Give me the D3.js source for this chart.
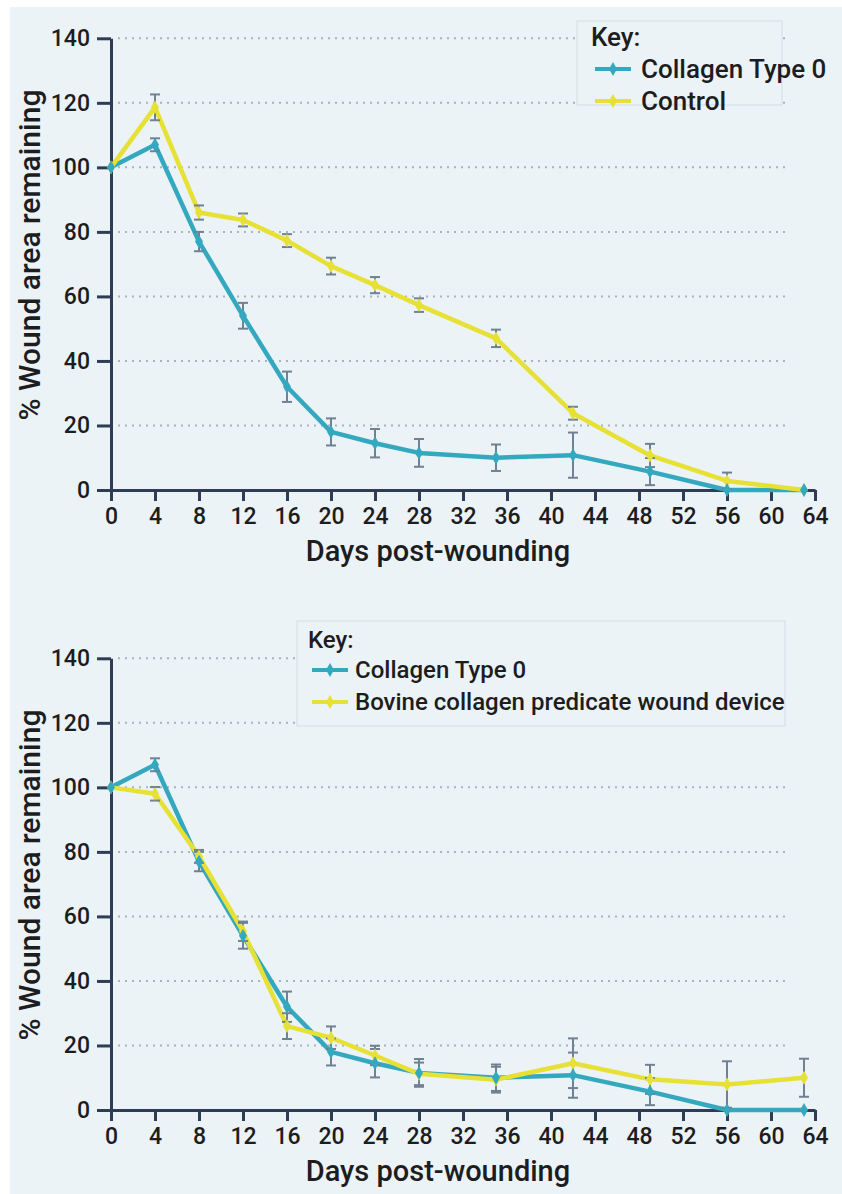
<!DOCTYPE html>
<html>
<head>
<meta charset="utf-8">
<script src="https://cdn.jsdelivr.net/npm/d3@7"></script>
<style>
  html, body { margin: 0; padding: 0; background: #ffffff; }
  svg { display: block; }
  text { font-family: Roboto, "Open Sans", sans-serif; fill: #1d1d1f; }
</style>
</head>
<body>
<svg id="chart" width="842" height="1194"></svg>
<script>
// Sampling days (post-wounding)
const days = [0, 4, 8, 12, 16, 20, 24, 28, 35, 42, 49, 56, 63];

// % wound area remaining, mean and error (±)
const collagenType0    = [100, 107, 77, 54, 32, 18, 14.5, 11.5, 10, 10.8, 5.7, 0, 0];
const collagenType0Err = [0, 2, 3, 4, 4.7, 4.2, 4.4, 4.3, 4.1, 7, 4.2, 0, 0];

const control    = [100, 118.6, 86, 83.7, 77.3, 69.4, 63.5, 57.3, 47, 23.8, 10.7, 2.8, 0];
const controlErr = [0, 4, 2.2, 2, 2, 2.6, 2.5, 2.1, 2.7, 2, 3.6, 2.6, 0];

const bovine    = [100, 98, 78.6, 55.4, 26, 22.4, 16.9, 11.2, 9.4, 14.5, 9.5, 7.9, 10];
const bovineErr = [0, 2.1, 2, 3, 4, 3.5, 3, 3.5, 4, 7.7, 4.5, 7.2, 5.9];

// Axis ticks
const xTicks = d3.range(0, 65, 4);
const yTicks = d3.range(0, 141, 20);
const gridTicks = d3.range(20, 141, 20);

// Labels
const xTitle = "Days post-wounding";
const yTitle = "% Wound area remaining";
const keyTitle = "Key:";
const topNames = ["Collagen Type 0", "Control"];
const bottomNames = ["Collagen Type 0", "Bovine collagen predicate wound device"];

const TEAL = "#34a8bf";
const YELLOW = "#e7e035";
const AXIS = "#2e3d55";
const BG = "#ebf3f7";
const ERRC = "#6f8192";

const svg = d3.select("#chart");

// light panel behind both charts
svg.append("rect").attr("x", 10).attr("y", 7).attr("width", 832).attr("height", 1187).attr("fill", BG);

function drawPanel(offsetY, series, names, legend) {
  const x = d3.scaleLinear().domain([0, 64]).range([111, 815]);
  const y = d3.scaleLinear().domain([0, 140]).range([490 + offsetY, 38.3 + offsetY]);
  const g = svg.append("g");

  // dotted gridlines
  g.append("g").selectAll("line").data(gridTicks).join("line")
    .attr("x1", 118).attr("x2", 787)
    .attr("y1", d => y(d)).attr("y2", d => y(d))
    .attr("stroke", "#a9b3bb").attr("stroke-width", 2)
    .attr("stroke-dasharray", "2 5");

  // legend box (covers gridlines)
  g.append("rect")
    .attr("x", legend.x).attr("y", legend.y + offsetY)
    .attr("width", legend.w).attr("height", legend.h)
    .attr("fill", BG).attr("stroke", "#d5dde2").attr("stroke-width", 1);

  // y axis
  const yAxis = g.append("g").attr("transform", "translate(111,0)")
    .call(d3.axisLeft(y).tickValues(yTicks).tickSize(14).tickSizeOuter(0).tickPadding(7));
  // x axis
  const xAxis = g.append("g").attr("transform", `translate(0,${y(0)})`)
    .call(d3.axisBottom(x).tickValues(xTicks).tickSize(11).tickSizeOuter(0).tickPadding(7));

  [yAxis, xAxis].forEach(a => {
    a.select(".domain").attr("stroke", AXIS).attr("stroke-width", 3);
    a.selectAll(".tick line").attr("stroke", AXIS).attr("stroke-width", 3);
    a.selectAll(".tick text").attr("font-size", 23).attr("font-weight", 500)
      .attr("fill", "#1d1d1f").style("font-family", "Roboto, sans-serif");
  });

  // axis titles
  g.append("text")
    .attr("x", 438).attr("y", 561 + offsetY)
    .attr("text-anchor", "middle").attr("font-size", 29).attr("font-weight", 500)
    .text(xTitle);
  g.append("text")
    .attr("transform", `translate(40,${255 + offsetY}) rotate(-90)`)
    .attr("text-anchor", "middle").attr("font-size", 30).attr("font-weight", 500)
    .text(yTitle);

  const line = d3.line().x(d => x(d.day)).y(d => y(d.v));

  // lines
  series.forEach(s => {
    const pts = days.map((d, i) => ({ day: d, v: s.values[i] }));
    g.append("path").datum(pts)
      .attr("fill", "none").attr("stroke", s.color).attr("stroke-width", 4.5)
      .attr("stroke-linejoin", "round").attr("d", line);
  });

  // error bars
  series.forEach(s => {
    const pts = days.map((d, i) => ({ day: d, v: s.values[i], e: s.err[i] })).filter(p => p.e > 0);
    const eb = g.append("g").attr("stroke", ERRC).attr("stroke-width", 2);
    eb.selectAll("line.v").data(pts).join("line").attr("class", "v")
      .attr("x1", p => x(p.day)).attr("x2", p => x(p.day))
      .attr("y1", p => y(p.v + p.e)).attr("y2", p => y(p.v - p.e));
    eb.selectAll("line.t").data(pts).join("line").attr("class", "t")
      .attr("x1", p => x(p.day) - 5).attr("x2", p => x(p.day) + 5)
      .attr("y1", p => y(p.v + p.e)).attr("y2", p => y(p.v + p.e));
    eb.selectAll("line.b").data(pts).join("line").attr("class", "b")
      .attr("x1", p => x(p.day) - 5).attr("x2", p => x(p.day) + 5)
      .attr("y1", p => y(p.v - p.e)).attr("y2", p => y(p.v - p.e));
  });

  // markers
  const diamond = d3.symbol().type(d3.symbolDiamond).size(55);
  series.slice().reverse().forEach(s => {
    g.append("g").selectAll("path").data(days.map((d, i) => ({ day: d, v: s.values[i] }))).join("path")
      .attr("d", diamond)
      .attr("transform", p => `translate(${x(p.day)},${y(p.v)})`)
      .attr("fill", s.color);
  });

  // legend content
  const ly = legend.y + offsetY;
  g.append("text").attr("x", legend.keyX).attr("y", ly + legend.keyDy)
    .attr("font-size", legend.font).attr("font-weight", 500).text(keyTitle);
  names.forEach((name, i) => {
    const cy = ly + legend.rowDy + i * legend.rowGap;
    g.append("line").attr("x1", legend.sampleX).attr("x2", legend.sampleX + 36)
      .attr("y1", cy).attr("y2", cy)
      .attr("stroke", series[i].color).attr("stroke-width", 4);
    g.append("path").attr("d", diamond).attr("transform", `translate(${legend.sampleX + 18},${cy})`)
      .attr("fill", series[i].color);
    g.append("text").attr("x", legend.textX).attr("y", cy + legend.font * 0.33)
      .attr("font-size", legend.font).attr("font-weight", 500).text(name);
  });
}

drawPanel(0,
  [ { values: collagenType0, err: collagenType0Err, color: TEAL },
    { values: control, err: controlErr, color: YELLOW } ],
  topNames,
  { x: 577, y: 21, w: 205, h: 84, keyX: 591, keyDy: 25, sampleX: 595, textX: 641,
    rowDy: 48, rowGap: 32, font: 26 });

drawPanel(620,
  [ { values: collagenType0, err: collagenType0Err, color: TEAL },
    { values: bovine, err: bovineErr, color: YELLOW } ],
  bottomNames,
  { x: 297, y: 1, w: 488, h: 105, keyX: 308, keyDy: 27, sampleX: 312, textX: 355,
    rowDy: 49, rowGap: 32, font: 24 });
</script>
</body>
</html>
